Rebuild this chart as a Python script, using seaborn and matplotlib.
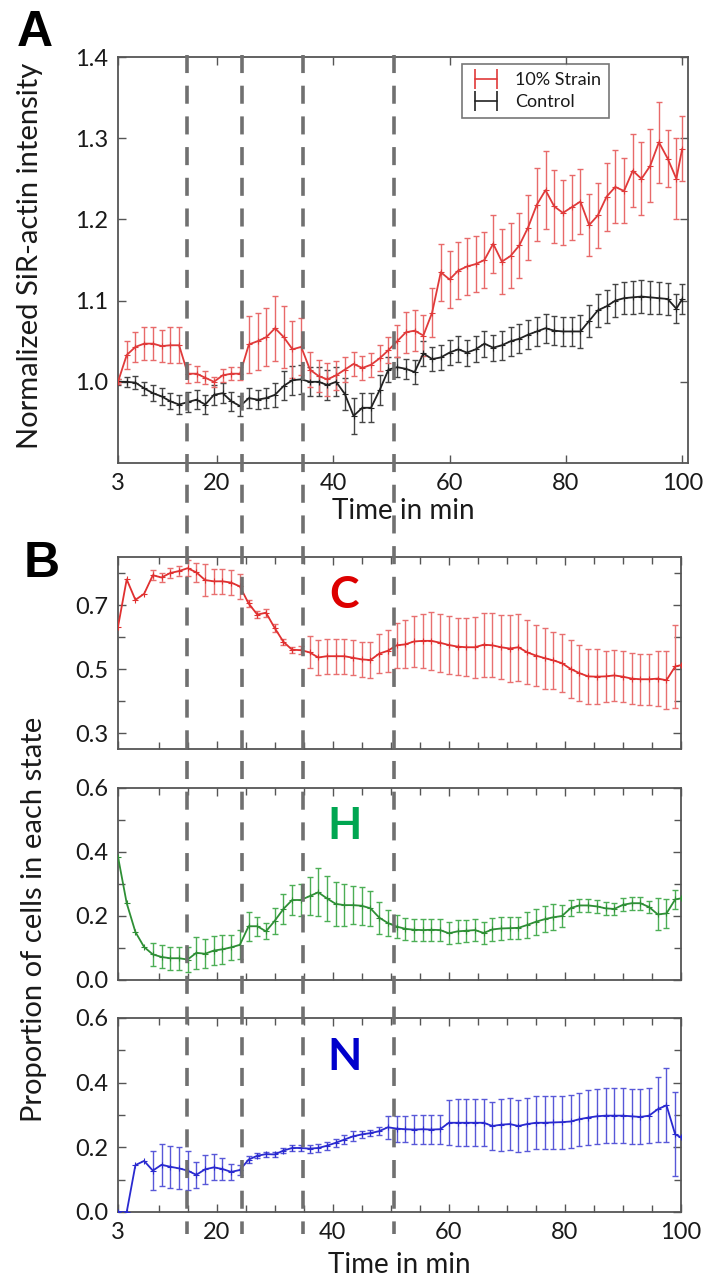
import numpy as np
import pandas as pd
import seaborn as sns
import matplotlib
matplotlib.use("Agg")
from matplotlib import pyplot as plt
from matplotlib.lines import Line2D

# Time points (min)
time_min = [3, 4.5, 6, 7.5, 9, 10.5, 12, 13.5, 15, 16.5,
            18, 19.5, 21, 22.5, 24, 25.5, 27, 28.5, 30, 31.5,
            33, 34.5, 36, 37.5, 39, 40.5, 42, 43.5, 45, 46.5,
            48, 49.5, 51, 52.5, 54, 55.5, 57, 58.5, 60, 61.5,
            63, 64.5, 66, 67.5, 69, 70.5, 72, 73.5, 75, 76.5,
            78, 79.5, 81, 82.5, 84, 85.5, 87, 88.5, 90, 91.5,
            93, 94.5, 96, 97.5, 99, 100]

# Panel A: normalized SiR-actin intensity
strain_mean = [1.000, 1.033, 1.043, 1.047, 1.047, 1.044, 1.045, 1.045, 1.010, 1.010,
               1.005, 1.000, 1.008, 1.010, 1.010, 1.046, 1.050, 1.055, 1.066, 1.055,
               1.040, 1.043, 1.015, 1.007, 1.003, 1.008, 1.015, 1.022, 1.017, 1.021,
               1.029, 1.039, 1.050, 1.061, 1.063, 1.057, 1.085, 1.135, 1.126, 1.137,
               1.142, 1.145, 1.150, 1.170, 1.148, 1.155, 1.168, 1.190, 1.218, 1.236,
               1.216, 1.208, 1.215, 1.222, 1.193, 1.205, 1.228, 1.240, 1.235, 1.260,
               1.250, 1.266, 1.295, 1.275, 1.250, 1.287]
strain_err = [0.003, 0.017, 0.018, 0.020, 0.020, 0.020, 0.022, 0.022, 0.012, 0.010,
              0.008, 0.006, 0.008, 0.008, 0.008, 0.035, 0.035, 0.036, 0.040, 0.038,
              0.035, 0.035, 0.022, 0.020, 0.020, 0.018, 0.015, 0.015, 0.015, 0.015,
              0.016, 0.016, 0.020, 0.025, 0.025, 0.025, 0.030, 0.035, 0.035, 0.035,
              0.035, 0.035, 0.035, 0.036, 0.040, 0.040, 0.040, 0.040, 0.045, 0.048,
              0.045, 0.040, 0.040, 0.040, 0.038, 0.040, 0.042, 0.045, 0.040, 0.045,
              0.045, 0.045, 0.050, 0.035, 0.050, 0.040]
control_mean = [1.000, 1.000, 0.999, 0.992, 0.986, 0.982, 0.976, 0.972, 0.975, 0.978,
                0.972, 0.984, 0.986, 0.976, 0.970, 0.980, 0.978, 0.980, 0.984, 0.995,
                1.002, 1.003, 1.000, 1.000, 0.996, 1.000, 0.985, 0.958, 0.968, 0.968,
                0.990, 1.015, 1.018, 1.016, 1.012, 1.035, 1.028, 1.030, 1.036, 1.040,
                1.036, 1.040, 1.047, 1.042, 1.045, 1.050, 1.053, 1.058, 1.062, 1.066,
                1.063, 1.062, 1.062, 1.062, 1.075, 1.088, 1.093, 1.100, 1.103, 1.104,
                1.105, 1.104, 1.103, 1.102, 1.090, 1.102]
control_err = [0.004, 0.006, 0.008, 0.008, 0.010, 0.010, 0.010, 0.012, 0.012, 0.012,
               0.012, 0.012, 0.012, 0.012, 0.012, 0.012, 0.012, 0.012, 0.015, 0.018,
               0.018, 0.018, 0.018, 0.018, 0.018, 0.018, 0.020, 0.022, 0.018, 0.018,
               0.018, 0.015, 0.012, 0.012, 0.015, 0.015, 0.015, 0.015, 0.015, 0.016,
               0.016, 0.016, 0.016, 0.016, 0.018, 0.018, 0.018, 0.018, 0.018, 0.018,
               0.018, 0.018, 0.018, 0.020, 0.020, 0.020, 0.020, 0.020, 0.020, 0.020,
               0.020, 0.020, 0.020, 0.020, 0.018, 0.018]

# Panel B: proportion of cells in each state (C, H, N)
c_mean = [0.632, 0.780, 0.716, 0.735, 0.793, 0.786, 0.800, 0.806, 0.815, 0.802,
          0.778, 0.774, 0.774, 0.770, 0.758, 0.705, 0.670, 0.676, 0.628, 0.585,
          0.560, 0.559, 0.552, 0.536, 0.540, 0.540, 0.540, 0.535, 0.530, 0.528,
          0.548, 0.557, 0.574, 0.577, 0.586, 0.588, 0.588, 0.582, 0.575, 0.570,
          0.568, 0.568, 0.576, 0.574, 0.568, 0.564, 0.568, 0.552, 0.542, 0.534,
          0.527, 0.518, 0.500, 0.487, 0.477, 0.476, 0.477, 0.480, 0.476, 0.470,
          0.468, 0.468, 0.470, 0.465, 0.508, 0.512]
c_err = [0.000, 0.000, 0.000, 0.000, 0.015, 0.015, 0.015, 0.015, 0.025, 0.030,
         0.050, 0.040, 0.040, 0.040, 0.040, 0.012, 0.012, 0.012, 0.012, 0.010,
         0.010, 0.012, 0.050, 0.055, 0.055, 0.055, 0.055, 0.055, 0.055, 0.055,
         0.060, 0.065, 0.070, 0.075, 0.080, 0.085, 0.090, 0.090, 0.090, 0.090,
         0.090, 0.095, 0.100, 0.100, 0.100, 0.105, 0.105, 0.100, 0.095, 0.095,
         0.090, 0.090, 0.090, 0.088, 0.085, 0.085, 0.080, 0.080, 0.080, 0.080,
         0.080, 0.080, 0.085, 0.090, 0.130, 0.000]
h_mean = [0.385, 0.240, 0.150, 0.103, 0.080, 0.072, 0.068, 0.068, 0.064, 0.085,
          0.082, 0.092, 0.096, 0.102, 0.110, 0.168, 0.168, 0.152, 0.185, 0.222,
          0.250, 0.250, 0.262, 0.274, 0.255, 0.238, 0.234, 0.234, 0.232, 0.224,
          0.195, 0.178, 0.167, 0.160, 0.157, 0.156, 0.157, 0.156, 0.146, 0.152,
          0.154, 0.156, 0.147, 0.158, 0.161, 0.162, 0.163, 0.172, 0.182, 0.190,
          0.196, 0.200, 0.225, 0.233, 0.233, 0.230, 0.224, 0.222, 0.235, 0.240,
          0.240, 0.228, 0.205, 0.208, 0.252, 0.255]
h_err = [0.000, 0.000, 0.000, 0.000, 0.035, 0.036, 0.036, 0.036, 0.040, 0.050,
         0.045, 0.045, 0.045, 0.040, 0.045, 0.045, 0.030, 0.025, 0.040, 0.047,
         0.047, 0.050, 0.060, 0.075, 0.070, 0.068, 0.065, 0.060, 0.060, 0.055,
         0.050, 0.040, 0.035, 0.035, 0.035, 0.035, 0.035, 0.035, 0.035, 0.035,
         0.035, 0.035, 0.035, 0.035, 0.035, 0.035, 0.035, 0.040, 0.040, 0.040,
         0.040, 0.035, 0.025, 0.020, 0.020, 0.020, 0.020, 0.020, 0.020, 0.020,
         0.020, 0.020, 0.050, 0.045, 0.030, 0.000]
n_mean = [0.000, 0.000, 0.145, 0.158, 0.128, 0.146, 0.140, 0.135, 0.128, 0.115,
          0.132, 0.138, 0.133, 0.124, 0.130, 0.162, 0.174, 0.179, 0.178, 0.190,
          0.198, 0.198, 0.196, 0.198, 0.205, 0.214, 0.224, 0.234, 0.240, 0.244,
          0.250, 0.262, 0.258, 0.256, 0.255, 0.256, 0.255, 0.256, 0.276, 0.276,
          0.276, 0.276, 0.276, 0.266, 0.270, 0.272, 0.266, 0.272, 0.276, 0.276,
          0.277, 0.278, 0.280, 0.287, 0.292, 0.296, 0.298, 0.298, 0.298, 0.296,
          0.294, 0.298, 0.318, 0.330, 0.240, 0.231]
n_err = [0.000, 0.000, 0.000, 0.000, 0.060, 0.065, 0.065, 0.065, 0.060, 0.040,
         0.045, 0.040, 0.035, 0.025, 0.015, 0.010, 0.008, 0.008, 0.008, 0.008,
         0.008, 0.008, 0.012, 0.012, 0.012, 0.012, 0.015, 0.015, 0.012, 0.010,
         0.012, 0.035, 0.040, 0.040, 0.045, 0.045, 0.045, 0.045, 0.070, 0.072,
         0.072, 0.072, 0.072, 0.075, 0.080, 0.080, 0.080, 0.082, 0.082, 0.082,
         0.082, 0.082, 0.082, 0.082, 0.085, 0.085, 0.085, 0.085, 0.085, 0.085,
         0.085, 0.085, 0.100, 0.115, 0.130, 0.000]

# dashed markers across both panels (min)
phase_marks = [14.8, 24.3, 34.8, 50.4]

W, H = 705, 1278
sns.set_theme(style="ticks")
plt.rcParams['font.family'] = ['Lato', 'DejaVu Sans']
plt.rcParams['axes.edgecolor'] = '#555555'
plt.rcParams['axes.linewidth'] = 1.3

fig = plt.figure(figsize=(W / 100, H / 100), dpi=100)


def add_axes(left, top, right, bottom):
    return fig.add_axes([left / W, 1 - bottom / H, (right - left) / W, (bottom - top) / H])


def draw_series(ax, mean, err, line_color, bar_color):
    df = pd.DataFrame({'t': time_min, 'm': mean, 'e': err})
    bars = df[df['e'] > 0]
    ax.errorbar(bars['t'], bars['m'], yerr=bars['e'], fmt='none', ecolor=bar_color,
                elinewidth=1.0, capsize=2.2, capthick=1.0, zorder=2)
    sns.lineplot(data=df, x='t', y='m', ax=ax, color=line_color, lw=1.3, estimator=None,
                 marker='+', markersize=4, markeredgewidth=0.8, markeredgecolor=line_color,
                 legend=False, zorder=3)
    ax.set_xlabel('')
    ax.set_ylabel('')


def style_axes(ax, fs=17):
    ax.tick_params(which='both', direction='in', top=True, right=True, colors='#555555',
                   labelcolor='#1a1a1a', labelsize=fs, width=1.0, pad=7)
    ax.tick_params(which='major', length=6)
    ax.tick_params(which='minor', length=5)


red_line, red_bar = '#e03a3a', '#e86a6a'
blk_line, blk_bar = '#222222', '#444444'

# ---- panel A ----
ax_a = add_axes(118, 57, 688, 463)
draw_series(ax_a, control_mean, control_err, blk_line, blk_bar)
draw_series(ax_a, strain_mean, strain_err, red_line, red_bar)
ax_a.set_xlim(3, 101)
ax_a.set_ylim(0.9, 1.4)
ax_a.set_xticks([3, 20, 40, 60, 80, 100])
ax_a.set_yticks([1.0, 1.1, 1.2, 1.3, 1.4])
ax_a.set_yticklabels(['1.0', '1.1', '1.2', '1.3', '1.4'])
style_axes(ax_a)
ax_a.set_xlabel('Time in min', fontsize=20, labelpad=3, color='#1a1a1a')

handles = [Line2D([], [], color=red_line, lw=1.2, marker='|', markersize=14, markeredgewidth=1.2),
           Line2D([], [], color=blk_line, lw=1.2, marker='|', markersize=14, markeredgewidth=1.2)]
leg = ax_a.legend(handles, ['10% Strain', 'Control'], loc='upper right',
                  bbox_to_anchor=(0.862, 0.982), numpoints=2, fontsize=13, frameon=True,
                  fancybox=False, edgecolor='#555555', handlelength=1.8, borderaxespad=0,
                  borderpad=0.45, labelspacing=0.3, handletextpad=0.7)
leg.get_frame().set_linewidth(1.2)
for txt in leg.get_texts():
    txt.set_color('#1a1a1a')

fig.text(30 / W, 1 - 256 / H, 'Normalized SiR-actin intensity', rotation=90,
         ha='center', va='center', fontsize=21, color='#1a1a1a')

# ---- panel B ----
ax_c = add_axes(118, 557, 681, 749)
ax_h = add_axes(118, 788, 681, 980)
ax_n = add_axes(118, 1018, 681, 1212)

panels = [(ax_c, c_mean, c_err, '#e03030', '#e87070', 'C', '#dd0000', (0.25, 0.85)),
          (ax_h, h_mean, h_err, '#2e8f35', '#4cae55', 'H', '#00a651', (0.0, 0.6)),
          (ax_n, n_mean, n_err, '#2a2ad0', '#5858d8', 'N', '#0000cc', (0.0, 0.6))]

minor_x = [10, 15, 25, 30, 35, 45, 50, 55, 65, 70, 75, 85, 90, 95]
for ax, m, e, lc, bc, letter, tc, ylim in panels:
    draw_series(ax, m, e, lc, bc)
    ax.set_xlim(3, 100)
    ax.set_ylim(*ylim)
    ax.set_xticks([3, 20, 40, 60, 80, 100])
    ax.set_xticks(minor_x, minor=True)
    if letter == 'C':
        ax.set_yticks([0.3, 0.5, 0.7])
        ax.set_yticklabels(['0.3', '0.5', '0.7'])
        ax.set_yticks([0.4, 0.6, 0.8], minor=True)
    else:
        ax.set_yticks([0.0, 0.2, 0.4, 0.6])
        ax.set_yticklabels(['0.0', '0.2', '0.4', '0.6'])
        ax.set_yticks([0.1, 0.3, 0.5], minor=True)
    style_axes(ax)
    if ax is not ax_n:
        ax.tick_params(labelbottom=False)
    ax.text(42, 0.80, letter, transform=ax.get_xaxis_transform(), ha='center', va='center',
            fontsize=32, fontweight='bold', color=tc)

ax_n.set_xlabel('Time in min', fontsize=20, labelpad=7, color='#1a1a1a')
fig.text(34 / W, 1 - 919 / H, 'Proportion of cells in each state', rotation=90,
         ha='center', va='center', fontsize=21, color='#1a1a1a')

# panel letters
fig.text(17 / W, 1 - 10 / H, 'A', ha='left', va='top', fontsize=36, fontweight='bold',
         color='black', family=['Liberation Sans', 'DejaVu Sans'])
fig.text(24 / W, 1 - 541 / H, 'B', ha='left', va='top', fontsize=36, fontweight='bold',
         color='black', family=['Liberation Sans', 'DejaVu Sans'])

# dashed lines running through both panels
inv = fig.transFigure.inverted()
for t in phase_marks:
    xf = inv.transform(ax_a.transData.transform((t, 1.0)))[0]
    fig.add_artist(Line2D([xf, xf], [1 - 55 / H, 1 - 1234 / H], transform=fig.transFigure,
                          color='#707070', lw=2.6, linestyle=(0, (5, 3.5)), zorder=10))

fig.savefig('out.png', dpi=100)
